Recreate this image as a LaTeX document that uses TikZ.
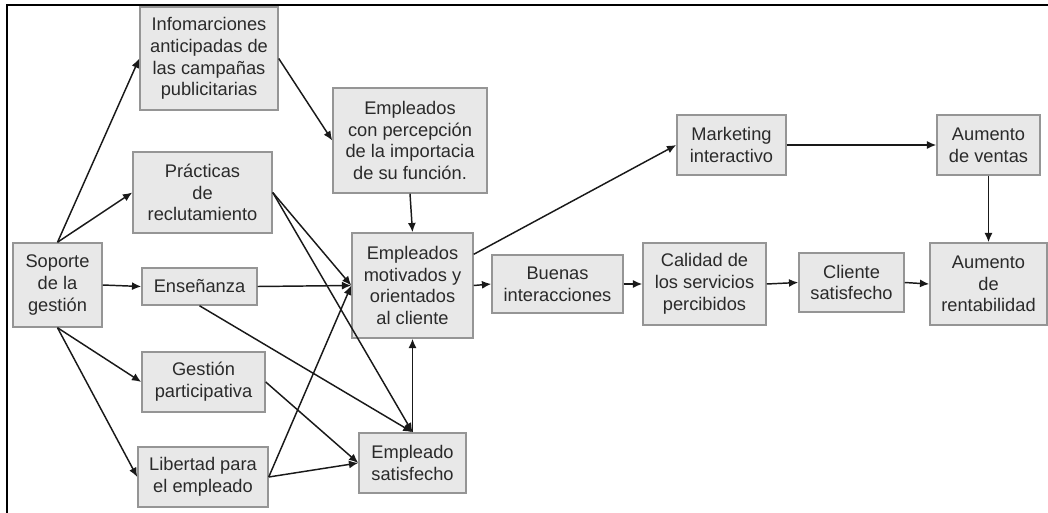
\documentclass[tikz,border=0pt]{standalone}
\usepackage{fontspec}
\setmainfont{Liberation Sans}
\usetikzlibrary{arrows.meta}
\definecolor{cajafill}{HTML}{E8E8E8}
\definecolor{cajaline}{HTML}{959595}
\definecolor{texto}{HTML}{2A2A2A}

\begin{document}
\begin{tikzpicture}[x=0.75pt,y=-0.75pt,
  caja/.style={draw=cajaline,fill=cajafill,line width=1.1pt,inner sep=0pt,align=center,
    text=texto,font=\fontsize{13.7}{16.3}\selectfont},
  flecha/.style={draw=black!90,line width=1.1pt,-{Latex[length=7pt,width=6pt]}}]
  \useasboundingbox (0,0) rectangle (1048,513);
  \draw [line width=1.6pt] (7,513) -- (7,5) -- (1048,5);
  \node [caja,minimum width=66.75pt,minimum height=63pt] (soporte) at (57.5,285) {Soporte\\de la\\gestión};
  \node [caja,minimum width=103.5pt,minimum height=77.25pt] (info) at (209,58.5) {Infomarciones\\anticipadas de\\las campañas\\publicitarias};
  \node [caja,minimum width=104.25pt,minimum height=60.75pt] (prac) at (202.5,192.5) {Prácticas\\de\\reclutamiento};
  \node [caja,minimum width=86.25pt,minimum height=27.75pt] (ense) at (199.5,286.5) {Enseñanza};
  \node [caja,minimum width=92.25pt,minimum height=45pt] (gest) at (203.5,382) {Gestión\\participativa};
  \node [caja,minimum width=97.5pt,minimum height=45pt] (lib) at (203,477) {Libertad para\\el empleado};
  \node [caja,minimum width=115.5pt,minimum height=78.75pt] (perc) at (410,140.5) {Empleados\\con percepción\\de la importacia\\de su función.};
  \node [caja,minimum width=90.75pt,minimum height=78.75pt] (motiv) at (412.5,285.5) {Empleados\\motivados y\\orientados\\al cliente};
  \node [caja,minimum width=80.25pt,minimum height=45pt] (satisf) at (412.5,463) {Empleado\\satisfecho};
  \node [caja,minimum width=98.25pt,minimum height=43.5pt] (buenas) at (557.5,284) {Buenas\\interacciones};
  \node [caja,minimum width=81.75pt,minimum height=45pt] (mkt) at (731.5,145) {Marketing\\interactivo};
  \node [caja,minimum width=77.25pt,minimum height=45pt] (ventas) at (988.5,145) {Aumento\\de ventas};
  \node [caja,minimum width=92.25pt,minimum height=61.5pt] (calidad) at (704.5,284) {Calidad de\\los servicios\\percibidos};
  \node [caja,minimum width=78.75pt,minimum height=44.25pt] (cliente) at (851.5,282.5) {Cliente\\satisfecho};
  \node [caja,minimum width=87.75pt,minimum height=61.5pt] (rent) at (988.5,284) {Aumento\\de\\rentabilidad};
  \draw [flecha] (soporte.north) -- (info.west);
  \draw [flecha] (soporte.north) -- (prac.west);
  \draw [flecha] (soporte.east) -- (ense.west);
  \draw [flecha] (soporte.south) -- (gest.west);
  \draw [flecha] (soporte.south) -- (lib.west);
  \draw [flecha] (info.east) -- (perc.west);
  \draw [flecha] (perc.south) -- (motiv.north);
  \draw [flecha] (prac.east) -- (motiv.west);
  \draw [flecha] (prac.east) -- (satisf.north);
  \draw [flecha] (ense.east) -- (motiv.west);
  \draw [flecha] (ense.south) -- (satisf.north);
  \draw [flecha] (gest.east) -- (satisf.west);
  \draw [flecha] (lib.east) -- (motiv.west);
  \draw [flecha] (lib.east) -- (satisf.west);
  \draw [flecha] (satisf.north) -- (motiv.south);
  \draw [flecha] (motiv.27) -- (mkt.west);
  \draw [flecha] (motiv.east) -- (buenas.west);
  \draw [flecha] (buenas.east) -- (calidad.west);
  \draw [flecha] (calidad.east) -- (cliente.west);
  \draw [flecha] (cliente.east) -- (rent.west);
  \draw [flecha] (mkt.east) -- (ventas.west);
  \draw [flecha] (ventas.south) -- (rent.north);
\end{tikzpicture}
\end{document}
